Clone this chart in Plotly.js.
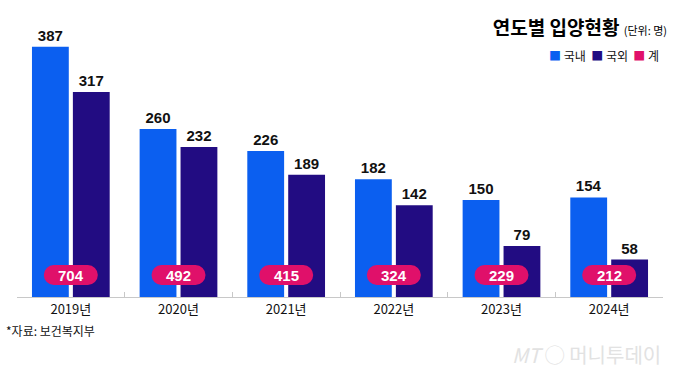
<!DOCTYPE html>
<html><head><meta charset="utf-8">
<script src="https://cdn.plot.ly/plotly-3.0.1.min.js"></script>
<style>html,body{margin:0;padding:0;background:#fff}#c{width:680px;height:384px}</style>
</head><body><div id="c"></div>
<script>
const years = ["2019년","2020년","2021년","2022년","2023년","2024년"];
const domestic = [387, 260, 226, 182, 150, 154];
const overseas = [317, 232, 189, 142, 79, 58];
const totals = [704, 492, 415, 324, 229, 212];
const seriesNames = ["국내","국외","계"];

const C_DOM = "#0b5ff0", C_OVS = "#220c82", C_TOT = "#e0106a";
const KR = "'Noto Sans CJK KR', 'Noto Sans', sans-serif";
const NUM = "'Liberation Sans Narrow', 'Liberation Sans', Arial, sans-serif";
const PILL_Y = 34;

const traces = [
  {type:"bar", name:seriesNames[0], x:years, y:domestic, marker:{color:C_DOM},
   text:domestic.map(String), textposition:"outside", cliponaxis:false,
   textfont:{family:NUM, size:15, color:"#111", weight:"bold"}, hoverinfo:"skip"},
  {type:"bar", name:seriesNames[1], x:years, y:overseas, marker:{color:C_OVS},
   text:overseas.map(String), textposition:"outside", cliponaxis:false,
   textfont:{family:NUM, size:15, color:"#111", weight:"bold"}, hoverinfo:"skip"}
];

const shapes = [], annotations = [];
years.forEach((yr, i) => {
  shapes.push({type:"rect", xref:"x", yref:"y", xsizemode:"pixel", ysizemode:"pixel",
    xanchor:i, yanchor:PILL_Y, x0:-17, x1:17, y0:-10, y1:10, fillcolor:C_TOT, line:{width:0}, layer:"above"});
  shapes.push({type:"circle", xref:"x", yref:"y", xsizemode:"pixel", ysizemode:"pixel",
    xanchor:i, yanchor:PILL_Y, x0:-27, x1:-7, y0:-10, y1:10, fillcolor:C_TOT, line:{width:0}, layer:"above"});
  shapes.push({type:"circle", xref:"x", yref:"y", xsizemode:"pixel", ysizemode:"pixel",
    xanchor:i, yanchor:PILL_Y, x0:7, x1:27, y0:-10, y1:10, fillcolor:C_TOT, line:{width:0}, layer:"above"});
  annotations.push({xref:"x", yref:"y", x:yr, y:PILL_Y, text:"<b>"+totals[i]+"</b>", showarrow:false,
    font:{family:NUM, size:15, color:"#fff"}});
});

// compact legend
const legColors = [C_DOM, C_OVS, C_TOT];
const legText = seriesNames.map((n, i) =>
  "<span style='color:"+legColors[i]+"'>■</span> "+n).join("  ");
annotations.push({xref:"paper", yref:"paper", x:0.997, xanchor:"right", y:0.906, yanchor:"middle",
  text:legText, showarrow:false, font:{family:KR, size:12, color:"#111"}});

annotations.push({xref:"paper", yref:"paper", x:-0.02, xanchor:"left", y:-0.124, yanchor:"middle",
  text:"*자료: 보건복지부", showarrow:false, font:{family:KR, size:12, color:"#111"}});
annotations.push({xref:"paper", yref:"paper", x:1.0, xanchor:"right", y:-0.215, yanchor:"middle",
  text:"<i>MT</i> ◯ 머니투데이", showarrow:false, font:{family:KR, size:20, color:"#e2e2e2"}});

const layout = {
  width:680, height:384,
  margin:{l:17, r:17, t:30, b:87},
  paper_bgcolor:"#fff", plot_bgcolor:"#fff",
  barmode:"group", bargap:0.24, bargroupgap:0.1,
  title:{text:"<b>연도별 입양현황</b> <span style='font-size:11px;font-weight:normal'>(단위: 명)</span>",
    xref:"container", yref:"container", x:0.981, xanchor:"right", y:0.927, yanchor:"middle",
    font:{family:KR, size:19, color:"#000"}},
  showlegend:false,
  xaxis:{type:"category", showgrid:false, showline:true, linecolor:"#c8c8c8", linewidth:1,
    ticks:"inside", tickson:"boundaries", ticklen:5, tickcolor:"#c8c8c8",
    tickfont:{family:KR, size:13, color:"#111"}, fixedrange:true},
  yaxis:{range:[0,413], visible:false, showgrid:false, zeroline:false, fixedrange:true},
  shapes:shapes, annotations:annotations
};

Plotly.newPlot("c", traces, layout, {displayModeBar:false, staticPlot:true});
</script>
</body></html>
